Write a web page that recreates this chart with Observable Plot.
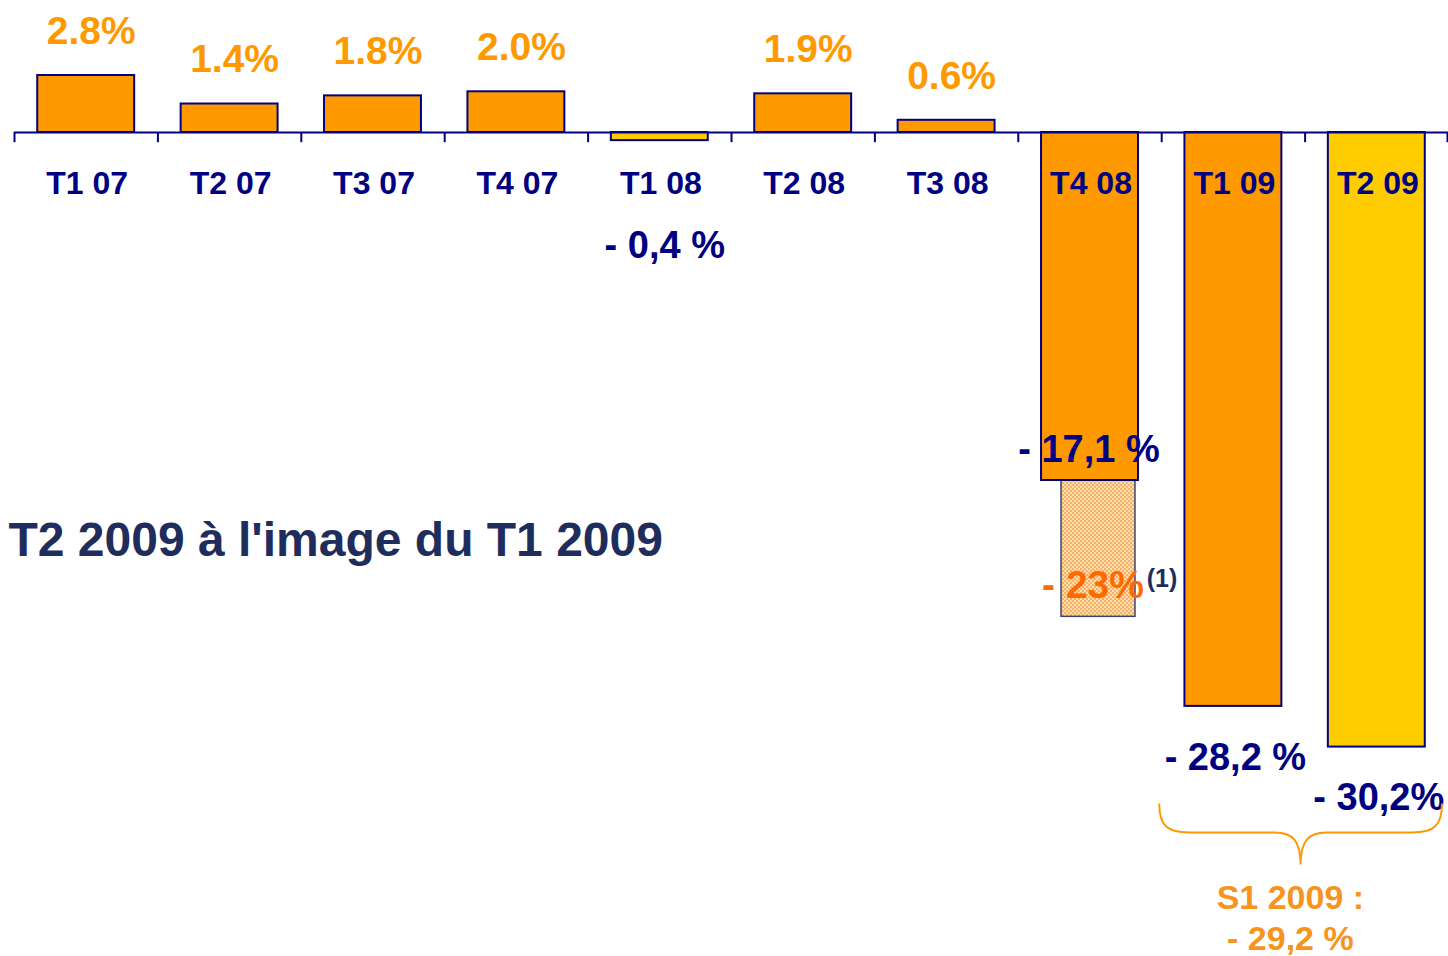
<!DOCTYPE html>
<html><head><meta charset="utf-8">
<script src="https://cdn.jsdelivr.net/npm/d3@7"></script>
<script src="https://cdn.jsdelivr.net/npm/@observablehq/plot@0.6"></script>
<style>html,body{margin:0;padding:0;background:#fff;} #chart svg{display:block}</style>
</head><body><div id="chart"></div>
<script>
// ---- data ----
const categories = ["T1 07","T2 07","T3 07","T4 07","T1 08","T2 08","T3 08","T4 08","T1 09","T2 09"];
const values = [2.8, 1.4, 1.8, 2.0, -0.4, 1.9, 0.6, -17.1, -28.2, -30.2];
const highlighted = ["T1 08", "T2 09"];
const positiveLabels = ["2.8%","1.4%","1.8%","2.0%",null,"1.9%","0.6%",null,null,null];
const negativeLabels = [null,null,null,null,"- 0,4 %",null,null,"- 17,1 %","- 28,2 %","- 30,2%"];
const proformaCategory = "T4 08";
const proformaValue = -23.8;
const proformaLabel = "- 23%";
const proformaNote = "(1)";
const semesterFrom = "T1 09", semesterTo = "T2 09";
const semesterLabel = ["S1 2009 :", "- 29,2 %"];
const title = "T2 2009 à l'image du T1 2009";

const data = categories.map((c, i) => ({cat: c, value: values[i], pos: positiveLabels[i], neg: negativeLabels[i]}));

const NAVY = "#000080", ORANGE = "#FF9900", YELLOW = "#FFCC00";
const W = 1448, H = 956, ML = 14, MR = 0;
const pIn = 0.324, pOut = pIn / 2;
const step = (W - ML - MR) / categories.length;

function braceMark(fromCat, toCat, yVal) {
  return (index, scales, values, dims) => {
    const x = scales.x, y = scales.y;
    const bw = x.bandwidth ? x.bandwidth() : step * (1 - pIn);
    const gap = (step - bw) / 2;
    const x0 = x(fromCat) - gap - 2;
    const x1 = x(toCat) + bw + gap - 6;
    const y0 = y(yVal);
    const y1 = y0 + 29, y2 = y0 + 61;
    const xm = (x0 + x1) / 2;
    const p = `M${x0},${y0} C${x0},${y0+22} ${x0+8},${y1} ${x0+30},${y1} L${xm-26},${y1} C${xm-8},${y1} ${xm},${y1+8} ${xm},${y2} C${xm},${y1+8} ${xm+8},${y1} ${xm+26},${y1} L${x1-30},${y1} C${x1-8},${y1} ${x1},${y0+22} ${x1},${y0}`;
    const path = d3.create("svg:path").attr("d", p).attr("fill", "none").attr("stroke", ORANGE).attr("stroke-width", 2);
    return path.node();
  };
}

const chart = Plot.plot({
  width: W, height: H,
  marginLeft: ML, marginRight: MR, marginTop: 0, marginBottom: 0,
  style: {fontFamily: "'Liberation Sans', Arial, sans-serif", background: "white", overflow: "visible"},
  x: {domain: categories, paddingInner: pIn, paddingOuter: pOut, round: false, axis: null},
  y: {domain: [-40.49, 6.486], axis: null},
  marks: [
    // pro forma hatched extension
    Plot.barY([{cat: proformaCategory}], {x: "cat", y1: values[categories.indexOf(proformaCategory)], y2: proformaValue,
      fill: "url(#dots)", stroke: "#3A4468", strokeWidth: 1.5, insetLeft: 20, insetRight: 3}),
    // bars
    Plot.barY(data, {x: "cat", y: "value", fill: d => highlighted.includes(d.cat) ? YELLOW : ORANGE, stroke: NAVY, strokeWidth: 2}),
    // axis line
    Plot.ruleY([0], {stroke: NAVY, strokeWidth: 2}),
    // tick marks at band boundaries
    Plot.ruleX(categories, {x: d => d, y1: 0, y2: -0.5, dx: -step / 2, stroke: NAVY, strokeWidth: 2}),
    Plot.ruleX([categories[categories.length - 1]], {x: d => d, y1: 0, y2: -0.5, dx: step / 2 - 1, stroke: NAVY, strokeWidth: 2}),
    // category labels
    Plot.text(data, {x: "cat", y: 0, dy: 51, dx: 1, text: "cat", fill: NAVY, fontSize: 32, fontWeight: "bold"}),
    // positive value labels
    Plot.text(data.filter(d => d.pos), {x: "cat", y: "value", dy: -44, dx: 5, text: "pos", fill: ORANGE, fontSize: 39, fontWeight: "bold"}),
    // negative value labels
    Plot.text(data.filter(d => d.cat === "T1 08"), {x: "cat", y: "value", dy: 105, dx: 5, text: "neg", fill: NAVY, fontSize: 38, fontWeight: "bold"}),
    Plot.text(data.filter(d => d.cat === "T4 08"), {x: "cat", y: "value", dy: -31, dx: -1, text: "neg", fill: NAVY, fontSize: 38, fontWeight: "bold"}),
    Plot.text(data.filter(d => d.cat === "T1 09" || d.cat === "T2 09"), {x: "cat", y: "value", dy: 51, dx: 2, text: "neg", fill: NAVY, fontSize: 38, fontWeight: "bold"}),
    // pro forma label
    Plot.text([proformaLabel], {x: () => proformaCategory, y: () => proformaValue, dy: -31, dx: 3, text: d => d, fill: "#FF6A00", fontSize: 39, fontWeight: "bold"}),
    Plot.text([proformaNote], {x: () => proformaCategory, y: () => proformaValue, dy: -38, dx: 72, text: d => d, fill: "#1F2D5C", fontSize: 25, fontWeight: "bold"}),
    // title annotation
    Plot.text([title], {frameAnchor: "left", dx: -6, dy: 62, text: d => d, textAnchor: "start", fill: "#1F2D5C", fontSize: 48, fontWeight: "bold"}),
    // semester brace and label
    braceMark(semesterFrom, semesterTo, -33.0),
    Plot.text([semesterLabel.join("\n")], {x: () => semesterFrom, y: () => -36.7, dx: 57, lineAnchor: "top", lineHeight: 1.22, text: d => d, fill: "#F7941D", fontSize: 34, fontWeight: "bold"})
  ]
});

const defs = d3.select(chart).insert("defs", ":first-child");
const pat = defs.append("pattern").attr("id", "dots").attr("width", 4).attr("height", 4).attr("patternUnits", "userSpaceOnUse");
pat.append("rect").attr("width", 4).attr("height", 4).attr("fill", "#FCDDB0");
pat.append("rect").attr("width", 2).attr("height", 2).attr("fill", "#F6B163");
pat.append("rect").attr("x", 2).attr("y", 2).attr("width", 2).attr("height", 2).attr("fill", "#F6B163");

document.getElementById("chart").appendChild(chart);
</script>
</body></html>
